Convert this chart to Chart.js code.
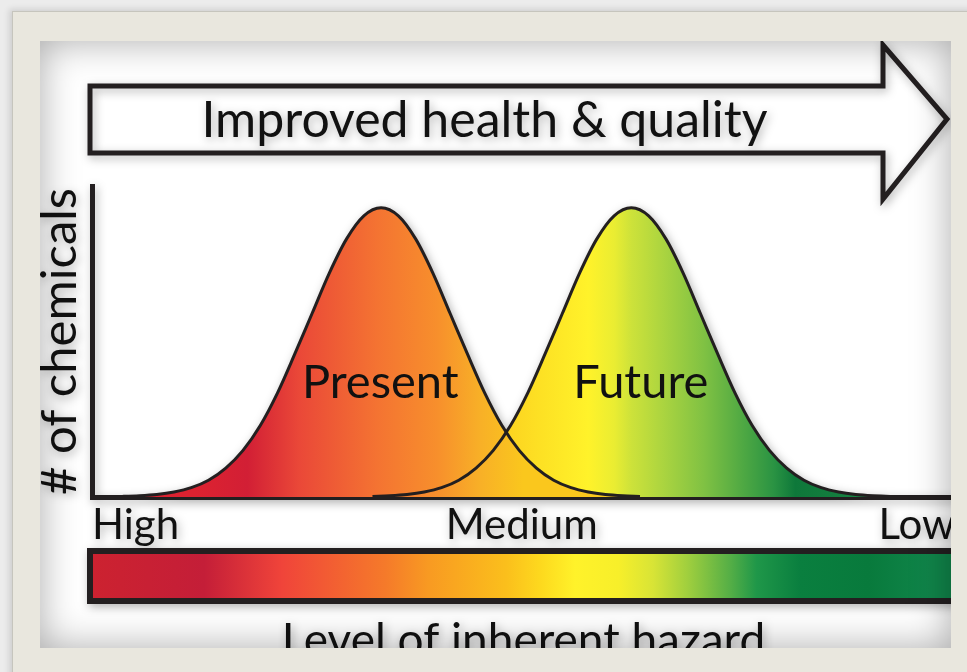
<!DOCTYPE html>
<html>
<head>
<meta charset="utf-8">
<script src="https://cdn.jsdelivr.net/npm/chart.js@4.4.1/dist/chart.umd.min.js"></script>
<style>
  html, body { margin: 0; padding: 0; width: 967px; height: 672px; overflow: hidden; background: #ececec; }
  #frame { position: absolute; left: 12px; top: 11px; width: 990px; height: 700px; background: #e9e7de;
           border-left: 1px solid #c6c5bd; border-top: 1px solid #c6c5bd; box-shadow: -3px -2px 6px rgba(0,0,0,0.12); }
  #panel { position: absolute; left: 40px; top: 41px; width: 911px; height: 607px; overflow: hidden; background: #fff; }
  #wrap { position: absolute; left: -40px; top: -41px; width: 1000px; height: 700px; }
  #shade { position: absolute; left: 0; top: 0; right: 0; bottom: 0; pointer-events: none;
           box-shadow: inset 0 0 38px rgba(0,0,0,0.34); }
  canvas { filter: drop-shadow(2px 3px 5px rgba(0,0,0,0.3)); }
</style>
</head>
<body>
<div id="frame"></div>
<div id="panel">
  <div id="wrap"><canvas id="chart"></canvas></div>
  <div id="shade"></div>
</div>
<script>
// curve samples (x: hazard position 0-100, y: share of chemicals 0-100)
const curveNames = ['Present', 'Future'];
const presentX = [0, 3.5, 5.5, 7.5, 9.5, 11.5, 13.5, 15.5, 17.5, 19.5, 21.5, 23.5, 25.5, 27.5, 29.5, 31.5, 33.5, 35.5, 37.5, 39.5, 41.5, 43.5, 45.5, 47.5, 49.5, 51.5, 53.5, 55.5, 57.5, 59.5, 61.5, 63.5];
const presentY = [0, 0.2, 0.4, 0.8, 1.6, 3, 5.4, 9.3, 15, 23, 33.5, 46, 59, 72, 83, 90.4, 93, 90.4, 83, 72, 59, 46, 33.5, 23, 15, 9.3, 5.4, 3, 1.6, 0.8, 0.4, 0.2];
const futureX = [32.5, 34.5, 36.5, 38.5, 40.5, 42.5, 44.5, 46.5, 48.5, 50.5, 52.5, 54.5, 56.5, 58.5, 60.5, 62.5, 64.5, 66.5, 68.5, 70.5, 72.5, 74.5, 76.5, 78.5, 80.5, 82.5, 84.5, 86.5, 88.5, 90.5, 92.5, 100];
const futureY = [0.2, 0.4, 0.8, 1.6, 3, 5.4, 9.3, 15, 23, 33.5, 46, 59, 72, 83, 90.4, 93, 90.4, 83, 72, 59, 46, 33.5, 23, 15, 9.3, 5.4, 3, 1.6, 0.8, 0.4, 0.2, 0];
const labelX = [33.4, 63.6];
const labelY = [36.7, 36.7];

// x axis ticks
const tickValues = [0, 49.8, 100];
const tickLabels = ['High', 'Medium', 'Low'];

// colour ramps (x positions on the hazard axis)
const presentStops = [12, 18, 24, 33, 40, 45, 50];
const presentColors = ['#dd2230', '#d21f35', '#ea4838', '#f47332', '#f78f2c', '#f8b027', '#fac71d'];
const futureStops = [45, 52, 57.5, 60.5, 62.5, 66.5, 71, 75.5, 79, 81.5, 86, 90];
const futureColors = ['#fbc81d', '#fde124', '#fff22a', '#eaed32', '#cde23a', '#a8d340', '#7fc143', '#4ea843', '#2a9343', '#0e783a', '#137d3e', '#1b8a47'];
const hazardStops = [0, 13, 22, 34, 39, 48, 52, 56, 61, 65, 69, 74, 77, 82, 90, 97];
const hazardColors = ['#cc2230', '#c41e38', '#f0443a', '#f57a2a', '#f89a22', '#fbbf1c', '#fdd91e', '#fff22a', '#f7ef2a', '#d8e436', '#a0cf3e', '#54ae46', '#1f9749', '#0a7f3f', '#087a3c', '#10854a'];

const arrowText = 'Improved health & quality';
const FONT = "Lato, 'Open Sans', sans-serif";
const INK = '#231f20';

function hGradient(chart, stops, colors) {
    const x = chart.scales.x;
    const x0 = x.getPixelForValue(stops[0]);
    const x1 = x.getPixelForValue(stops[stops.length - 1]);
    const g = chart.ctx.createLinearGradient(x0, 0, x1, 0);
    stops.forEach((v, i) => g.addColorStop((v - stops[0]) / (stops[stops.length - 1] - stops[0]), colors[i]));
    return g;
}

const decor = {
    id: 'decor',
    afterDatasetsDraw(chart) {
        const { ctx, chartArea: ca, scales: { x, y } } = chart;
        ctx.save();
        // curve names
        ctx.fillStyle = '#111';
        ctx.font = '47px ' + FONT;
        ctx.textAlign = 'center';
        ctx.textBaseline = 'middle';
        curveNames.forEach((name, i) => {
            ctx.fillText(name, x.getPixelForValue(labelX[i]), y.getPixelForValue(labelY[i]));
        });

        // top arrow
        const left = ca.left - 2, neck = ca.right - 72, tip = ca.right - 8;
        ctx.beginPath();
        ctx.moveTo(left, ca.top - 100);
        ctx.lineTo(neck, ca.top - 100);
        ctx.lineTo(neck, ca.top - 141);
        ctx.lineTo(tip, ca.top - 67);
        ctx.lineTo(neck, ca.top + 13);
        ctx.lineTo(neck, ca.top - 33);
        ctx.lineTo(left, ca.top - 33);
        ctx.closePath();
        ctx.lineWidth = 5;
        ctx.lineJoin = 'miter';
        ctx.strokeStyle = INK;
        ctx.stroke();
        ctx.font = '50px ' + FONT;
        ctx.textBaseline = 'alphabetic';
        ctx.fillStyle = '#111';
        ctx.fillText(arrowText, (left + neck) / 2 - 2, ca.top - 49);

        // hazard colour bar
        const by0 = ca.bottom + 54, by1 = ca.bottom + 104;
        ctx.fillStyle = hGradient(chart, hazardStops, hazardColors);
        ctx.fillRect(left, by0, ca.right + 40 - left, by1 - by0);
        ctx.lineWidth = 6;
        ctx.strokeRect(left, by0, ca.right + 40 - left, by1 - by0);
        ctx.restore();
    }
};

const curveStyle = {
    borderColor: INK,
    borderWidth: 3,
    pointRadius: 0,
    fill: 'origin',
    cubicInterpolationMode: 'monotone'
};

new Chart(document.getElementById('chart'), {
    type: 'line',
    data: {
        datasets: [
            {
                ...curveStyle,
                label: curveNames[0],
                data: presentX.map((v, i) => ({ x: v, y: presentY[i] })),
                backgroundColor: c => c.chart.chartArea ? hGradient(c.chart, presentStops, presentColors) : '#f47332'
            },
            {
                ...curveStyle,
                label: curveNames[1],
                data: futureX.map((v, i) => ({ x: v, y: futureY[i] })),
                backgroundColor: c => c.chart.chartArea ? hGradient(c.chart, futureStops, futureColors) : '#a8d340'
            }
        ]
    },
    options: {
        responsive: true,
        maintainAspectRatio: false,
        animation: false,
        layout: { padding: { left: 0, top: 186, right: 45, bottom: 0 } },
        plugins: {
            legend: { display: false },
            tooltip: { enabled: false },
            filler: { drawTime: 'beforeDatasetsDraw' }
        },
        scales: {
            x: {
                type: 'linear',
                min: 0,
                max: 100,
                grid: { display: false, drawTicks: false },
                border: { display: true, width: 5, color: INK },
                afterBuildTicks: s => { s.ticks = tickValues.map(v => ({ value: v })); },
                afterFit: s => { s.height = 203; },
                ticks: {
                    autoSkip: false,
                    maxRotation: 0,
                    align: 'inner',
                    padding: 3,
                    color: '#111',
                    font: { family: FONT, size: 42 },
                    callback: (v, i) => tickLabels[i]
                },
                title: {
                    display: true,
                    text: 'Level of inherent hazard',
                    color: '#111',
                    font: { family: FONT, size: 46, lineHeight: 1 },
                    padding: { top: 0, bottom: 36 }
                }
            },
            y: {
                min: 0,
                max: 100,
                grid: { display: false, drawTicks: false },
                border: { display: true, width: 5, color: INK },
                ticks: { display: false },
                afterFit: s => { s.width = 92; },
                title: {
                    display: true,
                    text: '# of chemicals',
                    color: '#111',
                    font: { family: FONT, size: 49, lineHeight: 1 },
                    padding: { top: 36, bottom: 0 }
                }
            }
        }
    },
    plugins: [decor]
});
</script>
</body>
</html>
